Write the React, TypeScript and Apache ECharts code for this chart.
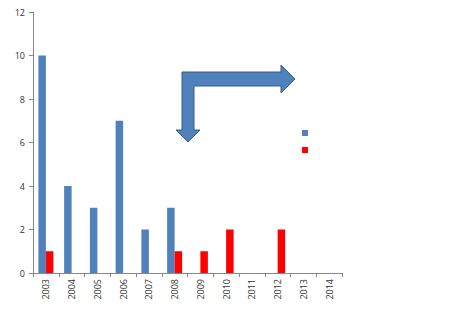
import React, { useEffect, useRef } from "react";
import * as echarts from "echarts";

const categories = ["2003", "2004", "2005", "2006", "2007", "2008", "2009", "2010", "2011", "2012", "2013", "2014"];
const blueValues = [10, 4, 3, 7, 2, 3, null, null, null, null, null, null];
const redValues = [1, null, null, null, null, 1, 1, 2, null, 2, null, null];
const yTicks = { min: 0, max: 12, interval: 2 };

export default function App() {
  const ref = useRef<HTMLDivElement>(null);
  useEffect(() => {
    document.body.style.margin = "0";
    const chart = echarts.init(ref.current!, undefined, { renderer: "svg" });
    const font = "'Open Sans', 'Liberation Sans', sans-serif";
    chart.setOption({
      animation: false,
      backgroundColor: "#ffffff",
      grid: { left: 33, right: 108, top: 12, bottom: 53 },
      legend: {
        orient: "vertical",
        left: 302,
        top: 130,
        padding: 0,
        icon: "rect",
        itemWidth: 6,
        itemHeight: 6,
        itemGap: 11,
        formatter: () => "",
        data: ["A", "B"],
        textStyle: { fontSize: 1 },
        selectedMode: false,
      },
      xAxis: {
        type: "category",
        data: categories,
        axisLine: { lineStyle: { color: "#888888" } },
        axisTick: { show: true, alignWithLabel: false, length: 4, lineStyle: { color: "#888888" } },
        axisLabel: { rotate: 90, fontSize: 9, color: "#333333", fontFamily: font, margin: 6, interval: 0 },
      },
      yAxis: {
        type: "value",
        min: yTicks.min,
        max: yTicks.max,
        interval: yTicks.interval,
        axisLine: { show: true, lineStyle: { color: "#888888" } },
        axisTick: { show: true, length: 4, lineStyle: { color: "#888888" } },
        splitLine: { show: false },
        axisLabel: { fontSize: 9, color: "#333333", fontFamily: font, margin: 8 },
      },
      series: [
        { name: "A", type: "bar", data: blueValues, barWidth: 7.5, barGap: "0%", itemStyle: { color: "#4F81BD" } },
        { name: "B", type: "bar", data: redValues, barWidth: 7.5, barGap: "0%", itemStyle: { color: "#FF0000" } },
      ],
      graphic: [
        {
          type: "polygon",
          z: 100,
          shape: {
            points: [
              [182, 72], [281, 72], [281, 65], [295, 79], [281, 93], [281, 86],
              [194, 86], [194, 130], [200, 130], [188, 142], [176, 130], [182, 130],
            ],
          },
          style: { fill: "#4F81BD", stroke: "#385D8A", lineWidth: 1 },
        },
      ],
    });
    return () => chart.dispose();
  }, []);
  return <div ref={ref} style={{ width: 450, height: 326 }} />;
}
